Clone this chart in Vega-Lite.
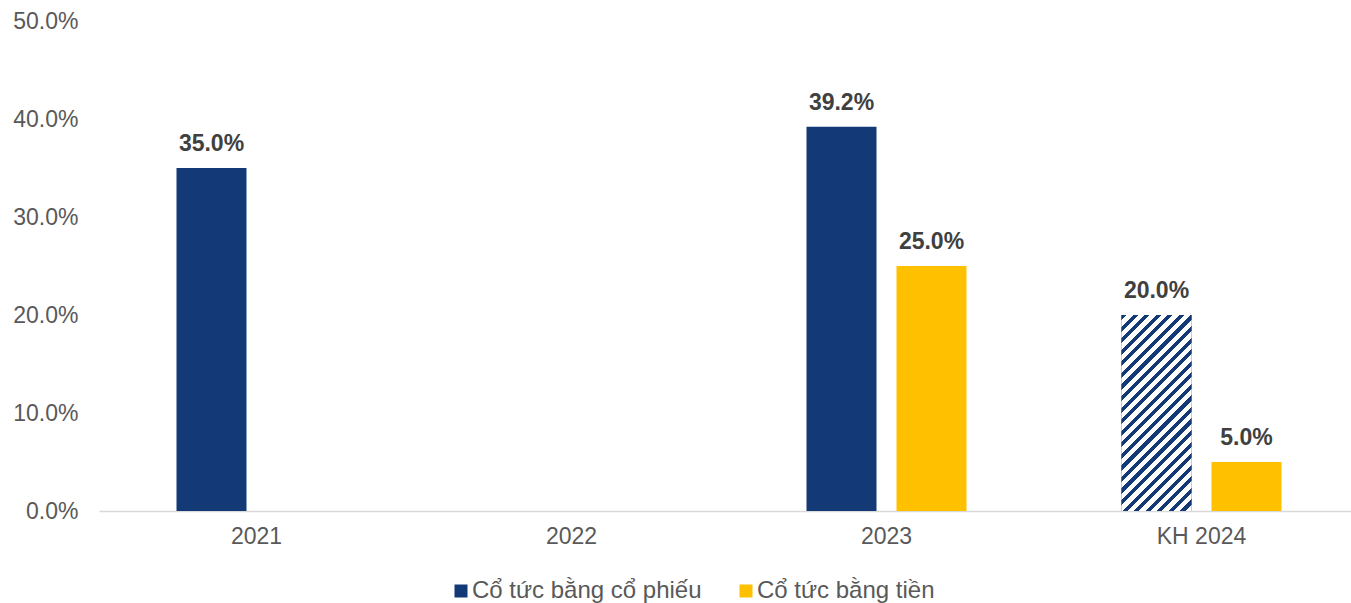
{
  "$schema": "https://vega.github.io/schema/vega-lite/v6.json",
  "width": 1252,
  "height": 490,
  "autosize": {"type": "none"},
  "padding": {"left": 99, "top": 21, "right": 0, "bottom": 92},
  "background": "white",
  "config": {"view": {"stroke": null}, "font": "Liberation Sans"},
  "data": {
    "values": [
      {"year": "2021", "type": "Cổ tức bằng cổ phiếu", "value": 0.35},
      {"year": "2023", "type": "Cổ tức bằng cổ phiếu", "value": 0.392},
      {"year": "2023", "type": "Cổ tức bằng tiền", "value": 0.25},
      {"year": "KH 2024", "type": "Cổ tức bằng cổ phiếu", "value": 0.2},
      {"year": "KH 2024", "type": "Cổ tức bằng tiền", "value": 0.05}
    ]
  },
  "encoding": {
    "x": {
      "field": "year",
      "type": "nominal",
      "title": null,
      "scale": {
        "domain": ["2021", "2022", "2023", "KH 2024"],
        "range": [0, 1260],
        "paddingInner": 0.4286,
        "paddingOuter": 0.2143
      },
      "axis": {
        "labelAngle": 0,
        "ticks": false,
        "domainColor": "#D9D9D9",
        "domainWidth": 1.5,
        "labelFontSize": 23,
        "labelColor": "#595959",
        "labelPadding": 14,
        "grid": false
      }
    },
    "xOffset": {
      "field": "type",
      "type": "nominal",
      "scale": {
        "domain": ["Cổ tức bằng cổ phiếu", "Cổ tức bằng tiền"],
        "paddingInner": 0.2222,
        "paddingOuter": 0.1111
      }
    },
    "y": {
      "field": "value",
      "type": "quantitative",
      "title": null,
      "scale": {"domain": [0, 0.5], "nice": false},
      "axis": {
        "values": [0, 0.1, 0.2, 0.3, 0.4, 0.5],
        "format": ".1%",
        "grid": false,
        "domain": false,
        "ticks": false,
        "labelPadding": 21,
        "labelFontSize": 23,
        "labelColor": "#595959"
      }
    }
  },
  "layer": [
    {
      "mark": {"type": "bar"},
      "encoding": {
        "color": {
          "field": "type",
          "type": "nominal",
          "scale": {
            "domain": ["Cổ tức bằng cổ phiếu", "Cổ tức bằng tiền"],
            "range": ["#143977", "#FFC000"]
          },
          "legend": {
            "title": null,
            "orient": "none",
            "direction": "horizontal",
            "legendX": 350,
            "legendY": 558,
            "symbolType": "square",
            "symbolSize": 169,
            "symbolStrokeWidth": 0,
            "labelFontSize": 24,
            "labelColor": "#595959",
            "labelOffset": -1,
            "columnPadding": 32,
            "labelLimit": 400
          }
        }
      }
    },
    {
      "transform": [{"filter": "datum.year === 'KH 2024' && datum.type === 'Cổ tức bằng cổ phiếu'"}],
      "mark": {
        "type": "bar",
        "fill": {
          "gradient": "linear",
          "x1": 0, "y1": 0, "x2": 0.4298, "y2": 1.2035,
          "stops": [
            {"offset": 0, "color": "#143977"}, {"offset": 0.0196, "color": "#143977"}, {"offset": 0.0196, "color": "#ffffff"}, {"offset": 0.0435, "color": "#ffffff"},
            {"offset": 0.0435, "color": "#143977"}, {"offset": 0.0630, "color": "#143977"}, {"offset": 0.0630, "color": "#ffffff"}, {"offset": 0.0870, "color": "#ffffff"},
            {"offset": 0.0870, "color": "#143977"}, {"offset": 0.1065, "color": "#143977"}, {"offset": 0.1065, "color": "#ffffff"}, {"offset": 0.1304, "color": "#ffffff"},
            {"offset": 0.1304, "color": "#143977"}, {"offset": 0.1500, "color": "#143977"}, {"offset": 0.1500, "color": "#ffffff"}, {"offset": 0.1739, "color": "#ffffff"},
            {"offset": 0.1739, "color": "#143977"}, {"offset": 0.1935, "color": "#143977"}, {"offset": 0.1935, "color": "#ffffff"}, {"offset": 0.2174, "color": "#ffffff"},
            {"offset": 0.2174, "color": "#143977"}, {"offset": 0.2370, "color": "#143977"}, {"offset": 0.2370, "color": "#ffffff"}, {"offset": 0.2609, "color": "#ffffff"},
            {"offset": 0.2609, "color": "#143977"}, {"offset": 0.2804, "color": "#143977"}, {"offset": 0.2804, "color": "#ffffff"}, {"offset": 0.3043, "color": "#ffffff"},
            {"offset": 0.3043, "color": "#143977"}, {"offset": 0.3239, "color": "#143977"}, {"offset": 0.3239, "color": "#ffffff"}, {"offset": 0.3478, "color": "#ffffff"},
            {"offset": 0.3478, "color": "#143977"}, {"offset": 0.3674, "color": "#143977"}, {"offset": 0.3674, "color": "#ffffff"}, {"offset": 0.3913, "color": "#ffffff"},
            {"offset": 0.3913, "color": "#143977"}, {"offset": 0.4109, "color": "#143977"}, {"offset": 0.4109, "color": "#ffffff"}, {"offset": 0.4348, "color": "#ffffff"},
            {"offset": 0.4348, "color": "#143977"}, {"offset": 0.4543, "color": "#143977"}, {"offset": 0.4543, "color": "#ffffff"}, {"offset": 0.4783, "color": "#ffffff"},
            {"offset": 0.4783, "color": "#143977"}, {"offset": 0.4978, "color": "#143977"}, {"offset": 0.4978, "color": "#ffffff"}, {"offset": 0.5217, "color": "#ffffff"},
            {"offset": 0.5217, "color": "#143977"}, {"offset": 0.5413, "color": "#143977"}, {"offset": 0.5413, "color": "#ffffff"}, {"offset": 0.5652, "color": "#ffffff"},
            {"offset": 0.5652, "color": "#143977"}, {"offset": 0.5848, "color": "#143977"}, {"offset": 0.5848, "color": "#ffffff"}, {"offset": 0.6087, "color": "#ffffff"},
            {"offset": 0.6087, "color": "#143977"}, {"offset": 0.6283, "color": "#143977"}, {"offset": 0.6283, "color": "#ffffff"}, {"offset": 0.6522, "color": "#ffffff"},
            {"offset": 0.6522, "color": "#143977"}, {"offset": 0.6717, "color": "#143977"}, {"offset": 0.6717, "color": "#ffffff"}, {"offset": 0.6957, "color": "#ffffff"},
            {"offset": 0.6957, "color": "#143977"}, {"offset": 0.7152, "color": "#143977"}, {"offset": 0.7152, "color": "#ffffff"}, {"offset": 0.7391, "color": "#ffffff"},
            {"offset": 0.7391, "color": "#143977"}, {"offset": 0.7587, "color": "#143977"}, {"offset": 0.7587, "color": "#ffffff"}, {"offset": 0.7826, "color": "#ffffff"},
            {"offset": 0.7826, "color": "#143977"}, {"offset": 0.8022, "color": "#143977"}, {"offset": 0.8022, "color": "#ffffff"}, {"offset": 0.8261, "color": "#ffffff"},
            {"offset": 0.8261, "color": "#143977"}, {"offset": 0.8457, "color": "#143977"}, {"offset": 0.8457, "color": "#ffffff"}, {"offset": 0.8696, "color": "#ffffff"},
            {"offset": 0.8696, "color": "#143977"}, {"offset": 0.8891, "color": "#143977"}, {"offset": 0.8891, "color": "#ffffff"}, {"offset": 0.9130, "color": "#ffffff"},
            {"offset": 0.9130, "color": "#143977"}, {"offset": 0.9326, "color": "#143977"}, {"offset": 0.9326, "color": "#ffffff"}, {"offset": 0.9565, "color": "#ffffff"},
            {"offset": 0.9565, "color": "#143977"}, {"offset": 0.9761, "color": "#143977"}, {"offset": 0.9761, "color": "#ffffff"}, {"offset": 1, "color": "#ffffff"}
          ]
        }
      },
      "encoding": {}
    },
    {
      "mark": {
        "type": "text",
        "baseline": "alphabetic",
        "dy": -17,
        "fontSize": 23,
        "fontWeight": "bold",
        "color": "#404040"
      },
      "encoding": {
        "text": {"field": "value", "type": "quantitative", "format": ".1%"}
      }
    }
  ]
}
